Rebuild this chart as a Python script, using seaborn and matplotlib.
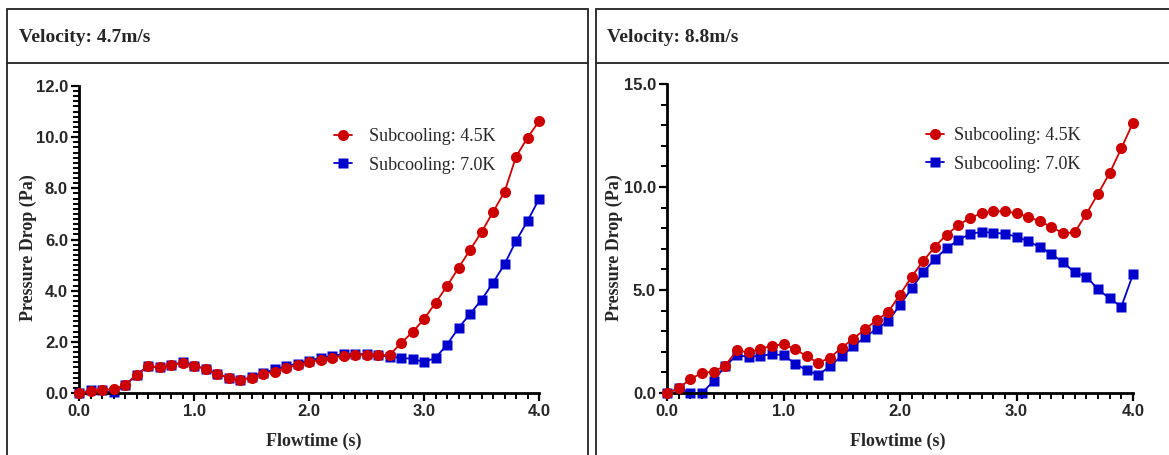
import numpy as np
import pandas as pd
import matplotlib
matplotlib.use("Agg")
import matplotlib.pyplot as plt
from matplotlib.patches import Rectangle
from matplotlib.lines import Line2D
from matplotlib.ticker import MultipleLocator, FormatStrFormatter
import seaborn as sns

# Flow time (s), sampled every 0.1 s
flowtime = [round(0.1 * i, 1) for i in range(41)]

# Velocity 4.7 m/s
v47_sub45 = [0.0, 0.08, 0.12, 0.15, 0.30, 0.70, 1.04, 1.02, 1.10, 1.17,
             1.07, 0.94, 0.76, 0.60, 0.50, 0.60, 0.73, 0.84, 0.98, 1.09,
             1.20, 1.30, 1.38, 1.45, 1.48, 1.50, 1.48, 1.48, 1.95, 2.38,
             2.89, 3.52, 4.18, 4.89, 5.59, 6.29, 7.07, 7.86, 9.23, 9.98,
             10.62]
v47_sub70 = [0.0, 0.10, 0.10, 0.02, 0.30, 0.72, 1.05, 1.00, 1.10, 1.20,
             1.07, 0.94, 0.75, 0.58, 0.50, 0.62, 0.78, 0.92, 1.05, 1.15,
             1.27, 1.37, 1.45, 1.52, 1.52, 1.52, 1.50, 1.41, 1.38, 1.33,
             1.21, 1.37, 1.89, 2.54, 3.09, 3.64, 4.31, 5.03, 5.94, 6.72,
             7.58]

# Velocity 8.8 m/s
v88_sub45 = [0.0, 0.22, 0.68, 0.97, 1.04, 1.33, 2.07, 1.97, 2.13, 2.30,
             2.36, 2.13, 1.78, 1.46, 1.72, 2.20, 2.64, 3.10, 3.53, 3.95,
             4.77, 5.65, 6.41, 7.10, 7.69, 8.14, 8.50, 8.72, 8.82, 8.82,
             8.72, 8.56, 8.33, 8.06, 7.75, 7.80, 8.70, 9.67, 10.68, 11.88,
             13.12]
v88_sub70 = [0.0, 0.22, 0.0, 0.0, 0.58, 1.31, 1.84, 1.75, 1.81, 1.88,
             1.84, 1.42, 1.10, 0.87, 1.31, 1.80, 2.27, 2.72, 3.12, 3.50,
             4.27, 5.08, 5.86, 6.52, 7.02, 7.43, 7.72, 7.82, 7.78, 7.73,
             7.59, 7.36, 7.09, 6.75, 6.34, 5.86, 5.65, 5.03, 4.59, 4.19,
             5.76]

panel_titles = ["Velocity: 4.7m/s", "Velocity: 8.8m/s"]
series_labels = ["Subcooling: 4.5K", "Subcooling: 7.0K"]
x_label = "Flowtime (s)"
y_label = "Pressure Drop (Pa)"

RED = "#CC0000"
BLUE = "#0000CC"

sns.set_theme(style="white")
plt.rcParams["font.family"] = ["Liberation Sans", "DejaVu Sans"]

W, H = 1169, 455
fig = plt.figure(figsize=(W / 100, H / 100), dpi=100)


def fx(px):
    return px / W


def fy(py):
    return 1 - py / H


# Panel frames with a title strip
for x0, x1 in [(7, 588), (596, 1175)]:
    fig.patches.append(Rectangle((fx(x0), fy(470)), fx(x1 - x0), (470 - 9) / H,
                                 transform=fig.transFigure, fill=False,
                                 edgecolor="#222222", linewidth=1.3))
    fig.lines.append(Line2D([fx(x0), fx(x1)], [fy(63), fy(63)],
                            transform=fig.transFigure, color="#222222",
                            linewidth=1.3))

for x0, title in zip([19, 607], panel_titles):
    fig.text(fx(x0), fy(37), title, family="Liberation Serif",
             fontweight="bold", fontsize=14, va="center", ha="left")

panels = [
    dict(box=(79, 539, 86, 393), data=(v47_sub45, v47_sub70), ymax=12.0,
         ymajor=2.0, yminor=0.2, ylab_x=28, xlab_cx=314,
         leg_xy=(0.554, 0.863), leg_pad=0.95),
    dict(box=(667, 1133, 84, 393), data=(v88_sub45, v88_sub70), ymax=15.0,
         ymajor=5.0, yminor=1.0, ylab_x=614, xlab_cx=898,
         leg_xy=(0.556, 0.861), leg_pad=0.55),
]

for p in panels:
    l, r, t, b = p["box"]
    ax = fig.add_axes([fx(l), fy(b), fx(r - l), (b - t) / H])
    # 7.0K series first so the 4.5K series sits on top
    df = pd.DataFrame({"t": flowtime * 2,
                       "dp": list(p["data"][1]) + list(p["data"][0]),
                       "case": [series_labels[1]] * 41 + [series_labels[0]] * 41})
    sns.lineplot(data=df, x="t", y="dp", hue="case", style="case",
                 hue_order=[series_labels[1], series_labels[0]],
                 style_order=[series_labels[1], series_labels[0]],
                 palette={series_labels[0]: RED, series_labels[1]: BLUE},
                 markers={series_labels[0]: "o", series_labels[1]: "s"},
                 dashes=False, linewidth=1.3,
                 markeredgecolor="none", ax=ax, legend=False)
    for ln in ax.lines:
        ln.set_clip_on(False)
        if ln.get_marker() == "o":
            ln.set_markersize(8)
            ln.set_zorder(3)
        else:
            ln.set_markersize(7)
            ln.set_zorder(2)

    ax.set_xlim(0, 4)
    ax.set_ylim(0, p["ymax"])
    ax.xaxis.set_major_locator(MultipleLocator(1.0))
    ax.xaxis.set_minor_locator(MultipleLocator(0.1))
    ax.yaxis.set_major_locator(MultipleLocator(p["ymajor"]))
    ax.yaxis.set_minor_locator(MultipleLocator(p["yminor"]))
    ax.xaxis.set_major_formatter(FormatStrFormatter("%.1f"))
    ax.yaxis.set_major_formatter(FormatStrFormatter("%.1f"))
    ax.tick_params(which="major", direction="out", length=6, width=1.6,
                   color="black", labelsize=12, pad=2,
                   bottom=True, left=True)
    ax.tick_params(which="minor", direction="out", length=4, width=1.4,
                   color="black", bottom=True, left=True)
    for lab in ax.get_xticklabels() + ax.get_yticklabels():
        lab.set_fontweight("bold")
    for side in ["top", "right"]:
        ax.spines[side].set_visible(False)
    for side in ["left", "bottom"]:
        ax.spines[side].set_linewidth(2)
        ax.spines[side].set_color("black")
    ax.set_facecolor("none")
    ax.set_xlabel("")
    ax.set_ylabel("")

    fig.text(fx(p["xlab_cx"]), fy(441), x_label, family="Liberation Serif",
             fontweight="bold", fontsize=13, ha="center", va="center")
    fig.text(fx(p["ylab_x"]), fy(248), y_label,
             family="Liberation Serif", fontweight="bold", fontsize=13,
             rotation=90, ha="center", va="center")

    handles = [Line2D([], [], color=RED, marker="o", markersize=8,
                      markeredgecolor="none", linewidth=1.3),
               Line2D([], [], color=BLUE, marker="s", markersize=7,
                      markeredgecolor="none", linewidth=1.3)]
    ax.legend(handles, series_labels, loc="upper left",
              bbox_to_anchor=p["leg_xy"], frameon=False,
              prop={"family": "Liberation Serif", "size": 13},
              borderpad=0, borderaxespad=0,
              handlelength=1.0, handletextpad=p["leg_pad"],
              labelspacing=0.65)

fig.savefig("out.png", dpi=100, facecolor="white")
